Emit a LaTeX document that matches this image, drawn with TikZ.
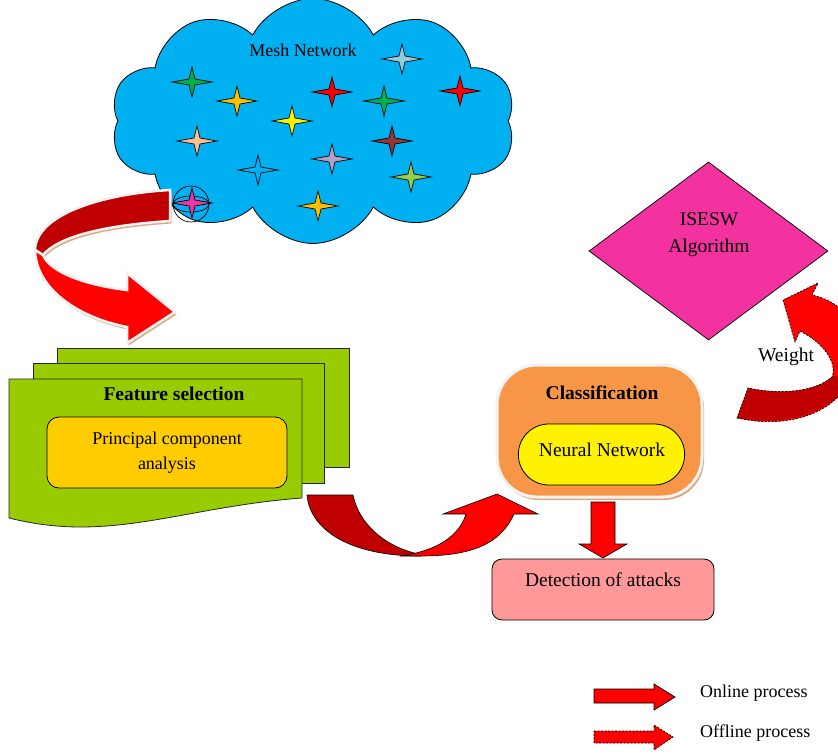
\documentclass[tikz,border=0pt]{standalone}
\usepackage{fontspec}
\setmainfont{Liberation Serif}
\usetikzlibrary{shapes.geometric,shapes.symbols,shapes.misc,shadows}
\definecolor{meshblue}{RGB}{0,176,240}
\definecolor{darkred}{RGB}{192,0,0}
\definecolor{brightred}{RGB}{255,0,0}
\definecolor{pagegreen}{RGB}{153,204,0}
\definecolor{pcagold}{RGB}{255,204,0}
\definecolor{classorange}{RGB}{247,150,70}
\definecolor{detectpink}{RGB}{255,153,153}
\definecolor{algopink}{RGB}{243,50,160}
\definecolor{ribbontan}{RGB}{217,170,130}
\definecolor{stargreen}{RGB}{0,176,80}
\definecolor{starorange}{RGB}{255,192,0}
\definecolor{starsky}{RGB}{146,205,220}
\definecolor{starpeach}{RGB}{250,191,143}
\definecolor{starbrown}{RGB}{150,54,52}
\definecolor{starlilac}{RGB}{178,161,199}
\definecolor{starlime}{RGB}{146,208,80}
\def\meshstar(#1,#2)#3{\filldraw[fill=#3, line width=0.7pt, shift={(#1,#2)}] (-20,0) -- (-3,-3) -- (0,-15) -- (3,-3) -- (20,0) -- (3,3) -- (0,15) -- (-3,3) -- cycle;}

\begin{document}
\begin{tikzpicture}[x=1pt, y=-1pt,
	every node/.style={font=\fontsize{18}{25}\selectfont},
	bigtext/.style={font=\fontsize{19.5}{27}\selectfont},
	headtext/.style={font=\fontsize{19.5}{24}\selectfont\bfseries}]
		%%%%% START %%%%%
		\useasboundingbox (0,0) rectangle (838,754);
		
		% mesh network cloud
		\node[cloud, cloud puffs=10, cloud puff arc=125, draw=black, fill=meshblue, line width=0.8pt, minimum width=405pt, minimum height=245pt, inner sep=0pt] (mesh) at (313,121) {};
		\node (meshlbl) at (303,50) {Mesh Network};
		
		\meshstar(192,82){stargreen}
		\meshstar(237,101){starorange}
		\meshstar(292,121){yellow}
		\meshstar(332,92){brightred}
		\meshstar(384,101){stargreen}
		\meshstar(402,59){starsky}
		\meshstar(460,91){brightred}
		\meshstar(197,141){starpeach}
		\meshstar(392,141){starbrown}
		\meshstar(332,159){starlilac}
		\meshstar(258,170){meshblue}
		\meshstar(411,177){starlime}
		\meshstar(318,206){starorange}
		\draw[line width=0.7pt] (191,204) circle [x radius=18, y radius=18];
		\draw[line width=0.7pt] (191,204) circle [x radius=18, y radius=8];
		\meshstar(192,203){algopink}
		
		% ribbon arrow from the cloud
		\fill[ribbontan, shift={(1.5,2.5)}] (170,190) .. controls (100,194) and (36,215) .. (35,250) .. controls (36,290) and (80,318) .. (127,327) -- (127,343) -- (175,312) -- (127,273) -- (127,290) .. controls (85,285) and (50,272) .. (43,255) .. controls (60,235) and (110,225) .. (170,221) -- cycle;
		\filldraw[fill=darkred, draw=white!95!black, line width=2.5pt, line join=miter] (170,190) .. controls (100,194) and (36,215) .. (35,250) -- (43,255) .. controls (60,235) and (110,225) .. (170,221) -- cycle;
		\filldraw[fill=brightred, draw=white!95!black, line width=2.5pt, line join=miter] (35,250) .. controls (36,290) and (80,318) .. (127,327) -- (127,343) -- (175,312) -- (127,273) -- (127,290) .. controls (85,285) and (50,272) .. (43,255) -- cycle;
		
		% feature selection pages
		\filldraw[fill=pagegreen, draw=black!85, line width=0.8pt] (57,348) rectangle (349,467);
		\filldraw[fill=pagegreen, draw=black!85, line width=0.8pt] (33,363) rectangle (324,483);
		\filldraw[fill=pagegreen, draw=black!85, line width=0.8pt] (9,379) -- (302,379) -- (302,498) .. controls (210,505) and (150,527) .. (80,527) .. controls (50,527) and (25,522) .. (9,518) -- cycle;
		\node[headtext] (featsel) at (174,394) {Feature selection};
		\node[draw=black, line width=0.8pt, fill=pcagold, rounded corners=12pt, minimum width=240pt, minimum height=71pt, align=center] (pca) at (167,452.5) {Principal component\\analysis};
		
		% U arrow to classification
		\filldraw[fill=darkred, line width=0.6pt] (307,495) -- (353,495) .. controls (358,520) and (380,545) .. (418,554) -- (420,556) .. controls (350,556) and (310,530) .. (307,495) -- cycle;
		\filldraw[fill=brightred, line width=0.6pt] (400,556) .. controls (430,552) and (458,540) .. (466,514) -- (443,514) -- (497,494) -- (538,514) -- (514,514) .. controls (500,545) and (470,556) .. (420,556) -- cycle;
		
		% classification
		\node[fill=classorange, draw=white!95!black, line width=3pt, rounded corners=40pt, minimum width=205pt, minimum height=132pt, drop shadow={shadow xshift=2pt, shadow yshift=-3pt, fill=ribbontan, opacity=1}] (classif) at (599.5,431) {};
		\node[headtext] (classlbl) at (602,393) {Classification};
		\node[rounded rectangle, draw=black, line width=0.8pt, fill=yellow, minimum width=173pt, minimum height=61pt] (neural) at (601.5,454.5) {};
		\node[bigtext] (neurallbl) at (602,450) {Neural Network};
		
		\filldraw[fill=brightred, line width=0.6pt] (591,502) -- (615,502) -- (615,544) -- (627,544) -- (603,558) -- (579,544) -- (591,544) -- cycle;
		
		\node[draw=black, line width=0.8pt, fill=detectpink, rounded corners=10pt, minimum width=222pt, minimum height=61pt] (detect) at (603,589.5) {};
		\node[bigtext] (detectlbl) at (603,580) {Detection of attacks};
		
		% ISESW algorithm
		\node[diamond, draw=black, line width=0.7pt, fill=algopink, minimum width=239pt, minimum height=178pt, inner sep=0pt] (algo) at (708.5,251) {};
		\node[bigtext, align=center] (algolbl) at (709,235) {ISESW\\Algorithm};
		
		% weight arrow (offline)
		\begin{scope}
		\clip (0,0) rectangle (838,754);
		\fill[brightred] (737,418) .. controls (800,432) and (856,405) .. (858,350) .. controls (860,318) and (835,300) .. (812,295) -- (818,283) -- (783,300) -- (795,342) -- (800,331) .. controls (822,342) and (838,362) .. (832,377) .. controls (815,392) and (780,395) .. (748,388) -- cycle;
		\fill[darkred] (748,388) .. controls (780,395) and (815,392) .. (832,377) -- (856,372) .. controls (840,410) and (790,428) .. (737,418) -- cycle;
		\draw[line width=0.7pt, dash pattern=on 2pt off 1.5pt] (737,418) .. controls (800,432) and (856,405) .. (858,350) .. controls (860,318) and (835,300) .. (812,295) -- (818,283) -- (783,300) -- (795,342) -- (800,331) .. controls (822,342) and (838,362) .. (832,377) .. controls (815,392) and (780,395) .. (748,388) -- cycle;
		\end{scope}
		\node[bigtext] (weight) at (786,357) {Weight};
		
		% legend
		\filldraw[fill=brightred, line width=0.7pt] (594,689) -- (654,689) -- (654,684) -- (675,697) -- (654,710) -- (654,703) -- (594,703) -- cycle;
		\node[anchor=west, inner sep=0pt] (online) at (700,693) {Online process};
		\filldraw[fill=brightred, line width=0.7pt, dash pattern=on 2pt off 1.5pt] (594,731) -- (654,731) -- (654,725) -- (673,737) -- (654,750) -- (654,743) -- (594,743) -- cycle;
		\node[anchor=west, inner sep=0pt] (offline) at (700,733) {Offline process};
		
		%%%%% END %%%%%
	\end{tikzpicture}
\end{document}
